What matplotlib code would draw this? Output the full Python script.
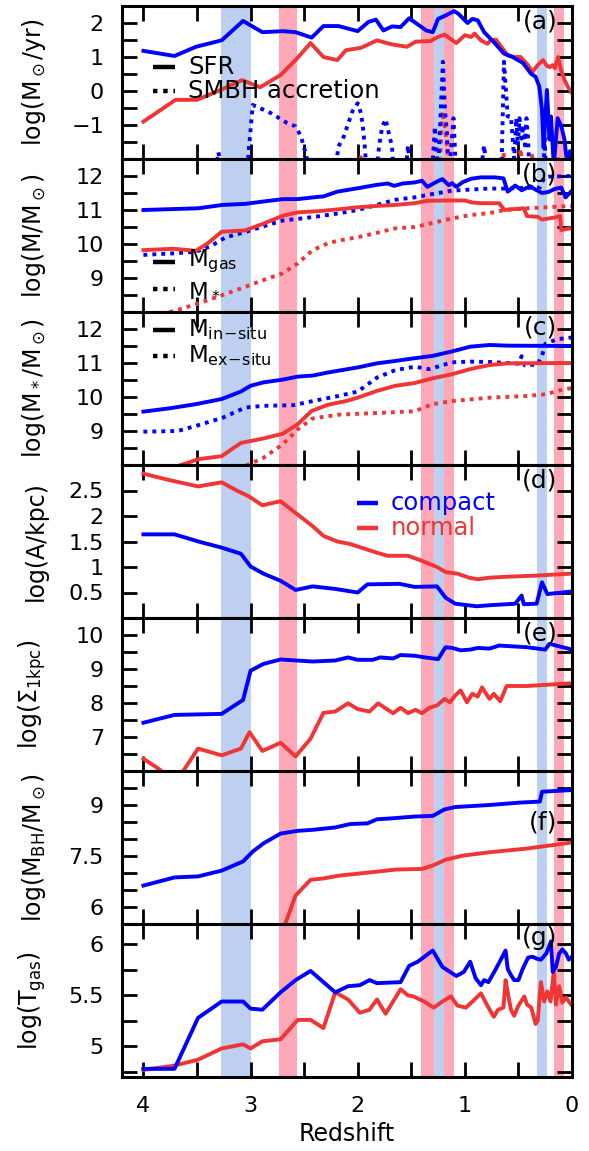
import matplotlib
matplotlib.use("Agg")
import matplotlib.pyplot as plt
from matplotlib.ticker import MultipleLocator, FixedLocator

plt.rcParams['font.family'] = ['DejaVu Sans']
plt.rcParams['mathtext.fontset'] = 'dejavusans'

BLUE = '#0000ff'
RED = '#f03535'
BAND_B = '#bdd0f2'
BAND_R = '#ffa8b8'

# shaded redshift intervals (z_hi, z_lo)
bands_blue = [(3.28, 3.0), (1.29, 1.19), (0.325, 0.235)]
bands_red = [(2.73, 2.57), (1.41, 1.29), (1.19, 1.105), (0.168, 0.07)]

# (a) SFR and SMBH accretion rate
z_sfr_c = [4.0, 3.71, 3.51, 3.27, 3.07, 2.89, 2.70, 2.58, 2.43, 2.32, 2.18, 2.0, 1.90, 1.83,
           1.76, 1.68, 1.60, 1.52, 1.44, 1.36, 1.30, 1.25, 1.18, 1.10, 1.06, 0.975, 0.93,
           0.88, 0.82, 0.73, 0.635, 0.555, 0.46, 0.38, 0.34, 0.305, 0.28, 0.265, 0.234,
           0.21, 0.196, 0.17, 0.134, 0.10, 0.07, 0.047, 0.02, 0.0]
sfr_c = [1.18, 1.03, 1.30, 1.49, 2.06, 1.73, 1.76, 1.73, 1.57, 1.91, 1.91, 1.76, 2.03, 2.10,
         1.78, 1.90, 1.88, 2.14, 1.96, 1.78, 1.73, 2.12, 2.22, 2.35, 2.27, 2.0, 2.12,
         2.08, 1.73, 1.44, 1.10, 1.0, 0.83, 0.50, 0.42, 0.13, -0.56, -1.67, 0.03,
         -1.43, -0.75, -2.2, -0.80, -1.04, -1.43, -2.1, -1.77, -2.1]
z_sfr_n = [4.0, 3.70, 3.50, 3.28, 3.08, 2.91, 2.72, 2.58, 2.44, 2.32, 2.19, 2.11, 1.97, 1.82,
           1.68, 1.54, 1.46, 1.32, 1.25, 1.19, 1.08, 1.0, 0.94, 0.91, 0.85, 0.79, 0.76, 0.71,
           0.66, 0.60, 0.54, 0.48, 0.41, 0.37, 0.32, 0.27, 0.24, 0.21, 0.18, 0.16, 0.13,
           0.10, 0.07, 0.04, 0.01]
sfr_n = [-0.90, -0.26, -0.26, 0.03, 0.32, 0.11, 0.47, 0.91, 1.41, 1.0, 0.91, 1.2, 1.27, 1.49,
         1.37, 1.30, 1.45, 1.47, 1.59, 1.66, 1.41, 1.64, 1.59, 1.69, 1.49, 1.39, 1.49, 1.51,
         1.30, 1.05, 1.0, 1.0, 0.76, 0.56, 0.76, 0.91, 0.76, 0.70, 0.76, 0.67, 1.0,
         0.60, 0.32, 0.13, -0.02]
z_acc_c = [4.0, 3.34, 3.30, 3.26, 3.04, 2.98, 2.81, 2.66, 2.58, 2.53, 2.48, 2.44,
           2.22, 2.18, 2.13, 2.05, 2.0, 1.97, 1.955, 1.94, 1.91,
           1.83, 1.80, 1.77, 1.74, 1.71, 1.68, 1.66, 1.56, 1.53, 1.51,
           1.31, 1.28, 1.25, 1.205, 1.185, 1.168, 1.15, 1.106, 1.08,
           0.86, 0.82, 0.79, 0.66, 0.635, 0.60, 0.57, 0.555, 0.54, 0.52, 0.505, 0.49,
           0.47, 0.455, 0.44, 0.425, 0.41, 0.395, 0.27, 0.255, 0.24, 0.0]
acc_c = [-2.6, -2.6, -1.8, -2.6, -2.6, -0.41, -0.65, -0.94, -1.04, -1.33, -1.9, -2.6,
         -2.6, -1.63, -1.34, -0.6, -0.36, -0.65, -0.96, -1.43, -2.6,
         -2.6, -1.6, -1.04, -0.83, -1.24, -1.63, -2.6, -2.6, -1.6, -2.6,
         -2.6, -1.05, -2.4, 0.86, -0.6, -1.2, -2.6, -0.8, -2.6,
         -2.6, -1.6, -2.6, -2.6, 0.86, -0.75, -0.75, -1.33, -2.0, -0.8, -1.6, -0.8,
         -1.4, -1.0, -1.6, -0.8, -1.4, -2.6, -2.6, -1.4, -2.6, -2.6]
z_acc_n = [4.0, 2.02, 1.97, 1.92, 1.24, 1.21, 1.19, 1.17, 1.14, 0.67, 0.64, 0.61, 0.51,
           0.48, 0.45, 0.39, 0.37, 0.35, 0.15, 0.13, 0.11, 0.0]
acc_n = [-2.6, -2.6, -1.95, -2.6, -2.6, -0.6, -1.0, -1.5, -2.6, -2.6, -1.8, -2.6, -2.6,
         -1.7, -2.6, -2.6, -1.9, -2.6, -2.6, -1.95, -2.6, -2.6]

# (b) gas mass and stellar mass
z_gas_c = [4.0, 3.49, 3.26, 3.05, 2.88, 2.70, 2.56, 2.42, 2.32, 2.19, 2.0, 1.82, 1.72, 1.66,
           1.58, 1.47, 1.40, 1.35, 1.27, 1.21, 1.15, 1.12, 1.08, 1.02, 0.94, 0.85, 0.72,
           0.64, 0.60, 0.53, 0.47, 0.39, 0.34, 0.28, 0.22, 0.16, 0.10, 0.06, 0.0]
gas_c = [11.0, 11.05, 11.15, 11.18, 11.25, 11.32, 11.32, 11.37, 11.4, 11.54, 11.64, 11.74,
         11.78, 11.71, 11.78, 11.81, 11.86, 11.68, 11.82, 11.91, 11.73, 11.79, 11.68, 11.82,
         11.92, 11.96, 11.96, 11.93, 11.54, 11.72, 11.58, 11.70, 11.60, 11.50, 11.53, 11.62,
         11.66, 11.37, 11.57]
z_ms_c = [4.0, 3.75, 3.51, 3.37, 3.23, 3.05, 2.88, 2.70, 2.53, 2.35, 2.18, 2.0, 1.82, 1.65,
          1.47, 1.30, 1.12, 0.95, 0.77, 0.63, 0.45, 0.30, 0.26, 0.22, 0.0]
ms_c = [9.68, 9.72, 9.77, 9.94, 10.2, 10.35, 10.52, 10.69, 10.75, 10.82, 10.9, 11.0, 11.15,
        11.3, 11.37, 11.47, 11.57, 11.6, 11.63, 11.63, 11.65, 11.66, 11.95, 11.98, 12.0]
z_gas_n = [4.0, 3.72, 3.51, 3.40, 3.27, 3.05, 2.88, 2.70, 2.56, 2.35, 2.18, 2.0, 1.82, 1.65,
           1.47, 1.35, 1.16, 1.0, 0.93, 0.85, 0.68, 0.63, 0.57, 0.45, 0.42, 0.32, 0.28,
           0.16, 0.11, 0.10, 0.0]
gas_n = [9.82, 9.86, 9.8, 10.02, 10.36, 10.4, 10.6, 10.83, 10.93, 10.97, 11.02, 11.08,
         11.12, 11.15, 11.2, 11.27, 11.28, 11.28, 11.22, 11.2, 11.2, 11.0, 11.02, 11.05,
         10.82, 10.8, 10.72, 10.78, 10.82, 10.41, 10.47]
z_ms_n = [4.0, 3.68, 3.49, 3.26, 3.05, 2.88, 2.70, 2.56, 2.42, 2.28, 2.18, 2.0, 1.82, 1.65,
          1.47, 1.30, 1.12, 0.95, 0.77, 0.63, 0.42, 0.0]
ms_n = [7.8, 8.06, 8.25, 8.5, 8.74, 8.94, 9.14, 9.43, 9.82, 10.02, 10.1, 10.2, 10.33, 10.46,
        10.5, 10.62, 10.75, 10.85, 10.91, 11.0, 11.05, 11.12]

# (c) in-situ and ex-situ stellar mass
z_in_c = [4.0, 3.75, 3.51, 3.27, 3.09, 3.0, 2.88, 2.70, 2.56, 2.42, 2.28, 2.0, 1.82, 1.65,
          1.47, 1.30, 1.12, 0.95, 0.77, 0.60, 0.0]
in_c = [9.57, 9.67, 9.79, 9.94, 10.16, 10.33, 10.43, 10.51, 10.6, 10.63, 10.72, 10.87, 10.99,
        11.06, 11.14, 11.21, 11.34, 11.48, 11.53, 11.51, 11.5]
z_ex_c = [4.0, 3.68, 3.51, 3.26, 3.05, 2.88, 2.60, 2.42, 2.18, 2.0, 1.82, 1.65, 1.47, 1.33,
          1.12, 0.95, 0.77, 0.60, 0.50, 0.47, 0.44, 0.32, 0.28, 0.25, 0.14, 0.0]
ex_c = [8.98, 9.0, 9.15, 9.39, 9.69, 9.74, 9.76, 9.88, 10.03, 10.16, 10.57, 10.79, 10.89,
        10.82, 11.02, 11.04, 11.03, 11.0, 10.98, 11.2, 10.93, 10.96, 11.21, 11.56, 11.7, 11.75]
z_in_n = [4.0, 3.75, 3.6, 3.49, 3.27, 3.09, 2.88, 2.70, 2.56, 2.43, 2.28, 2.11, 2.0, 1.82,
          1.65, 1.47, 1.30, 1.12, 0.95, 0.77, 0.60, 0.0]
in_n = [7.7, 7.9, 8.05, 8.17, 8.26, 8.65, 8.78, 8.92, 9.2, 9.59, 9.77, 9.88, 9.98, 10.18,
        10.33, 10.41, 10.55, 10.67, 10.82, 10.94, 10.99, 11.0]
z_ex_n = [3.2, 3.03, 2.88, 2.70, 2.56, 2.42, 2.18, 1.82, 1.47, 1.30, 1.12, 0.77, 0.42, 0.25,
          0.07, 0.0]
ex_n = [7.8, 8.0, 8.21, 8.61, 9.05, 9.37, 9.48, 9.53, 9.58, 9.79, 9.88, 9.98, 10.03, 10.08,
        10.23, 10.26]

# (d) size
z_a_n = [4.0, 3.75, 3.49, 3.27, 3.12, 3.02, 2.89, 2.72, 2.58, 2.42, 2.32, 2.19, 2.07, 1.82,
         1.72, 1.53, 1.40, 1.26, 1.18, 1.07, 0.96, 0.88, 0.77, 0.60, 0.35, 0.0]
a_n = [2.83, 2.70, 2.58, 2.66, 2.49, 2.39, 2.21, 2.29, 2.06, 1.80, 1.61, 1.5, 1.45, 1.28,
       1.22, 1.22, 1.12, 1.0, 0.90, 0.87, 0.79, 0.76, 0.79, 0.81, 0.83, 0.87]
z_a_c = [4.0, 3.71, 3.47, 3.27, 3.09, 3.0, 2.88, 2.72, 2.58, 2.42, 2.21, 2.0, 1.91, 1.61,
         1.47, 1.26, 1.18, 1.09, 0.89, 0.77, 0.53, 0.47, 0.45, 0.33, 0.28, 0.23, 0.0]
a_c = [1.64, 1.64, 1.49, 1.38, 1.26, 1.01, 0.87, 0.73, 0.55, 0.62, 0.57, 0.50, 0.66, 0.67,
       0.61, 0.62, 0.40, 0.28, 0.23, 0.25, 0.28, 0.44, 0.27, 0.28, 0.70, 0.47, 0.52]

# (e) central surface density
z_s_c = [4.0, 3.71, 3.27, 3.07, 3.0, 2.88, 2.72, 2.42, 2.21, 2.09, 2.0, 1.86, 1.79, 1.67,
         1.60, 1.47, 1.37, 1.25, 1.18, 1.12, 1.04, 0.95, 0.88, 0.77, 0.68, 0.42, 0.25,
         0.21, 0.0]
s_c = [7.42, 7.65, 7.68, 8.09, 8.95, 9.15, 9.28, 9.22, 9.25, 9.34, 9.27, 9.27, 9.34, 9.31,
       9.41, 9.39, 9.34, 9.29, 9.64, 9.62, 9.55, 9.57, 9.62, 9.6, 9.69, 9.64, 9.57, 9.74, 9.57]
z_s_n = [4.0, 3.86, 3.80, 3.65, 3.49, 3.27, 3.09, 3.01, 2.89, 2.72, 2.58, 2.44, 2.32, 2.21,
         2.09, 2.0, 1.89, 1.81, 1.67, 1.60, 1.53, 1.46, 1.40, 1.33, 1.26, 1.19, 1.14, 1.09,
         1.04, 0.98, 0.93, 0.88, 0.84, 0.77, 0.73, 0.67, 0.61, 0.42, 0.0]
s_n = [6.36, 6.07, 5.9, 5.9, 6.66, 6.46, 6.66, 7.14, 6.59, 6.83, 6.43, 6.95, 7.71, 7.75,
       7.99, 7.82, 7.75, 7.99, 7.7, 7.86, 7.7, 7.8, 7.7, 7.86, 7.93, 8.12, 8.02, 8.22,
       8.37, 8.02, 8.27, 8.19, 8.46, 8.12, 8.27, 8.05, 8.5, 8.5, 8.58]

# (f) black hole mass
z_bh_c = [4.0, 3.71, 3.49, 3.27, 3.07, 2.98, 2.88, 2.72, 2.56, 2.42, 2.21, 2.07, 1.91, 1.82,
          1.67, 1.47, 1.30, 1.19, 1.09, 0.77, 0.49, 0.30, 0.28, 0.0]
bh_c = [6.63, 6.87, 6.9, 7.07, 7.34, 7.63, 7.87, 8.16, 8.24, 8.27, 8.34, 8.44, 8.46, 8.58,
        8.61, 8.66, 8.68, 8.87, 8.94, 9.0, 9.07, 9.1, 9.39, 9.44]
z_bh_n = [2.70, 2.58, 2.44, 2.32, 2.18, 2.0, 1.82, 1.65, 1.40, 1.30, 1.18, 1.02, 0.77, 0.42,
          0.18, 0.0]
bh_n = [5.3, 6.34, 6.80, 6.84, 6.92, 6.98, 7.04, 7.10, 7.12, 7.22, 7.39, 7.51, 7.61, 7.72,
        7.82, 7.90]

# (g) gas temperature
z_t_c = [4.0, 3.71, 3.49, 3.27, 3.07, 3.0, 2.89, 2.72, 2.58, 2.44, 2.21, 2.09, 1.98, 1.89,
         1.82, 1.60, 1.52, 1.44, 1.30, 1.21, 1.08, 1.01, 0.95, 0.90, 0.85, 0.82, 0.78, 0.71,
         0.66, 0.62, 0.60, 0.57, 0.54, 0.50, 0.46, 0.41, 0.37, 0.33, 0.29, 0.24, 0.196,
         0.18, 0.15, 0.12, 0.09, 0.056, 0.03, 0.0]
t_c = [4.78, 4.78, 5.28, 5.44, 5.44, 5.37, 5.36, 5.53, 5.65, 5.74, 5.53, 5.59, 5.6, 5.65,
       5.62, 5.63, 5.79, 5.83, 5.94, 5.78, 5.69, 5.73, 5.83, 5.67, 5.60, 5.65, 5.63, 5.76,
       5.86, 5.94, 5.76, 5.70, 5.65, 5.65, 5.76, 5.87, 5.88, 5.86, 5.85, 5.91, 6.03,
       5.73, 5.78, 5.91, 5.95, 5.91, 5.85, 5.88]
z_t_n = [4.0, 3.72, 3.49, 3.27, 3.07, 3.0, 2.89, 2.72, 2.56, 2.44, 2.32, 2.21, 2.09, 1.98,
         1.89, 1.82, 1.74, 1.60, 1.53, 1.48, 1.38, 1.29, 1.21, 1.13, 1.07, 0.99, 0.93, 0.85,
         0.79, 0.73, 0.69, 0.64, 0.62, 0.60, 0.57, 0.54, 0.50, 0.445, 0.42, 0.38, 0.34,
         0.32, 0.29, 0.26, 0.23, 0.20, 0.17, 0.15, 0.12, 0.09, 0.056, 0.03, 0.0]
t_n = [4.77, 4.81, 4.87, 4.98, 5.02, 4.98, 5.05, 5.07, 5.26, 5.26, 5.18, 5.53, 5.46, 5.33,
       5.36, 5.46, 5.32, 5.56, 5.50, 5.49, 5.44, 5.38, 5.44, 5.49, 5.40, 5.38, 5.44, 5.52,
       5.40, 5.29, 5.36, 5.38, 5.65, 5.53, 5.36, 5.30, 5.40, 5.49, 5.41, 5.38, 5.22,
       5.25, 5.63, 5.44, 5.54, 5.44, 5.73, 5.41, 5.59, 5.43, 5.48, 5.44, 5.40]

fig = plt.figure(figsize=(5.89, 11.51), dpi=100)
L, R, B, T = 122 / 589, 572 / 589, 1 - 1077 / 1151, 1 - 6 / 1151
n = 7
h = (T - B) / n
axes = [fig.add_axes([L, T - (i + 1) * h, R - L, h]) for i in range(n)]

LW = 2.8
DOT = (0, (1, 1.3))

# y settings: (ylim, major ticks, minor step, label, panel letter, letter y)
ysets = [
    ((-2, 2.5), [-1, 0, 1, 2], 0.5, r'log(M$_\odot$/yr)', '(a)', 0.975),
    ((8, 12.5), [9, 10, 11, 12], 0.5, r'log(M/M$_\odot$)', '(b)', 0.975),
    ((8, 12.5), [9, 10, 11, 12], 0.5, r'log(M$_*$/M$_\odot$)', '(c)', 0.975),
    ((0, 3), [0.5, 1, 1.5, 2, 2.5], None, 'log(A/kpc)', '(d)', 0.975),
    ((6, 10.5), [7, 8, 9, 10], 0.5, r'log($\Sigma_{\rm 1kpc}$)', '(e)', 0.975),
    ((5.5, 10), [6, 7.5, 9], 0.5, r'log(M$_{\rm BH}$/M$_\odot$)', '(f)', 0.74),
    ((4.7, 6.2), [5, 5.5, 6], 0.25, r'log(T$_{\rm gas}$)', '(g)', 0.985),
]

for i, ax in enumerate(axes):
    ylim, major, minor, lab, letter, ly = ysets[i]
    for z1, z0 in bands_blue:
        ax.axvspan(z0, z1, color=BAND_B, lw=0, zorder=0)
    for z1, z0 in bands_red:
        ax.axvspan(z0, z1, color=BAND_R, lw=0, zorder=0)
    ax.set_xlim(4.2, 0)
    ax.set_ylim(*ylim)
    ax.xaxis.set_major_locator(FixedLocator([0, 1, 2, 3, 4]))
    ax.xaxis.set_minor_locator(FixedLocator([0.5, 1.5, 2.5, 3.5]))
    ax.yaxis.set_major_locator(FixedLocator(major))
    if minor:
        ax.yaxis.set_minor_locator(MultipleLocator(minor))
    else:
        ax.yaxis.set_minor_locator(FixedLocator([]))
    ax.tick_params(which='both', direction='in', top=True, right=True,
                   length=11, width=2, labelsize=16, pad=13)
    ax.tick_params(axis='x', pad=14)
    for s in ax.spines.values():
        s.set_linewidth(2.2)
    if i < n - 1:
        ax.set_xticklabels([])
    ax.set_yticklabels([('%g' % v).replace('-', '\u2212') for v in major])
    ax.set_ylabel(lab, fontsize=17)
    ax.yaxis.set_label_coords(-0.165, 0.5)
    ax.text(0.968, ly, letter, transform=ax.transAxes, ha='right', va='top', fontsize=18)

ax = axes[0]
ax.plot(z_sfr_n, sfr_n, color=RED, lw=LW)
ax.plot(z_sfr_c, sfr_c, color=BLUE, lw=LW)
ax.plot(z_acc_n, acc_n, color=RED, lw=LW, ls=DOT)
ax.plot(z_acc_c, acc_c, color=BLUE, lw=LW, ls=DOT)

ax = axes[1]
ax.plot(z_gas_c, gas_c, color=BLUE, lw=LW)
ax.plot(z_ms_c, ms_c, color=BLUE, lw=LW, ls=DOT)
ax.plot(z_gas_n, gas_n, color=RED, lw=LW)
ax.plot(z_ms_n, ms_n, color=RED, lw=LW, ls=DOT)

ax = axes[2]
ax.plot(z_in_c, in_c, color=BLUE, lw=LW)
ax.plot(z_ex_c, ex_c, color=BLUE, lw=LW, ls=DOT)
ax.plot(z_in_n, in_n, color=RED, lw=LW)
ax.plot(z_ex_n, ex_n, color=RED, lw=LW, ls=DOT)

axes[3].plot(z_a_n, a_n, color=RED, lw=LW)
axes[3].plot(z_a_c, a_c, color=BLUE, lw=LW)
axes[4].plot(z_s_n, s_n, color=RED, lw=LW)
axes[4].plot(z_s_c, s_c, color=BLUE, lw=LW)
axes[5].plot(z_bh_n, bh_n, color=RED, lw=LW)
axes[5].plot(z_bh_c, bh_c, color=BLUE, lw=LW)
axes[6].plot(z_t_n, t_n, color=RED, lw=LW)
axes[6].plot(z_t_c, t_c, color=BLUE, lw=LW)
axes[6].set_xlabel('Redshift', fontsize=17, labelpad=4)


def key(ax, y, text, color='k', ls='-', x0=0.069, x1=0.118, xt=0.147, tcolor='k',
        size=17.5):
    ax.plot([x0, x1], [y, y], transform=ax.transAxes, color=color, lw=3.2, ls=ls,
            solid_capstyle='butt', clip_on=False)
    ax.text(xt, y, text, transform=ax.transAxes, ha='left', va='center',
            fontsize=size, color=tcolor)


key(axes[0], 0.60, 'SFR')
key(axes[0], 0.447, 'SMBH accretion', ls=DOT)
key(axes[1], 0.33, r'M$_{\rm gas}$', size=16.5)
key(axes[1], 0.15, r'M$_*$', ls=DOT, size=16.5)
key(axes[2], 0.885, r'M$_{\rm in\!-\!situ}$', size=16.5)
key(axes[2], 0.715, r'M$_{\rm ex\!-\!situ}$', ls=DOT, size=16.5)
key(axes[3], 0.75, 'compact', color=BLUE, x0=0.522, x1=0.569, xt=0.598, tcolor=BLUE)
key(axes[3], 0.585, 'normal', color=RED, x0=0.522, x1=0.569, xt=0.598, tcolor=RED)

fig.savefig('out.png', dpi=100)
